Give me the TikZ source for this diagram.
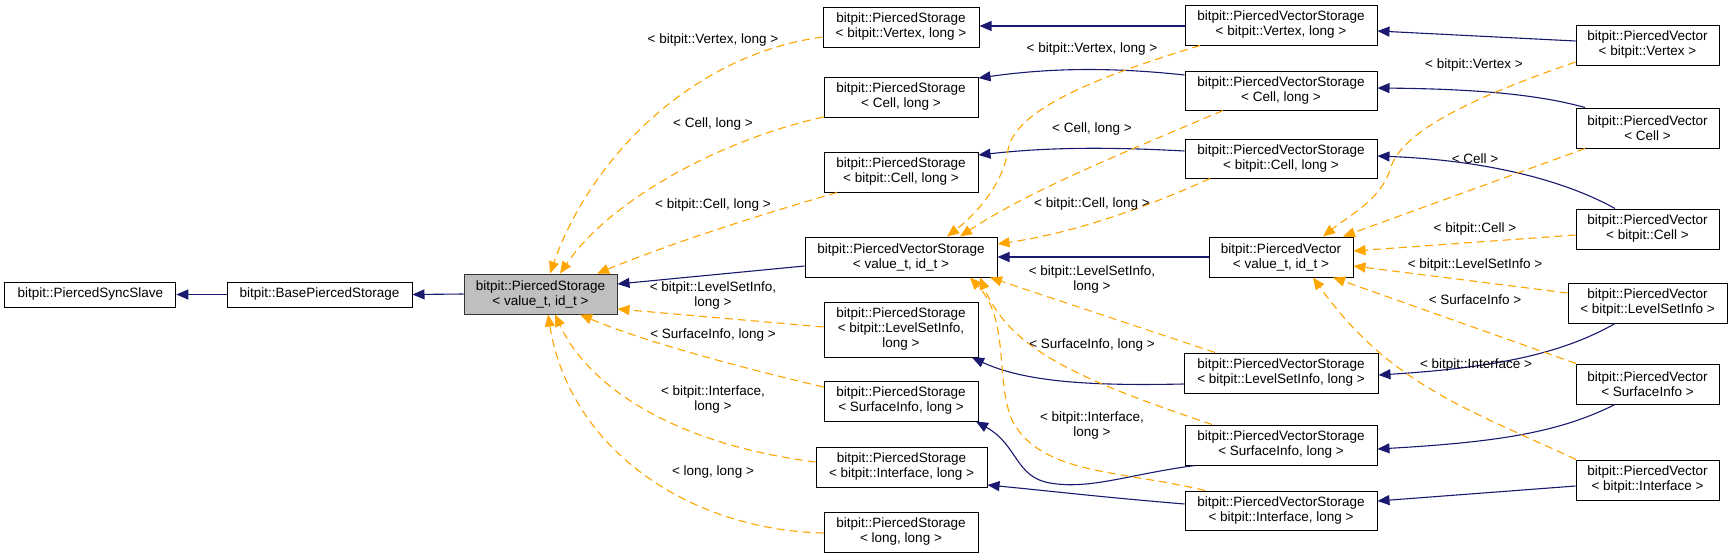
\documentclass[tikz,border=0pt]{standalone}
\usepackage{fontspec}
\setmainfont{Liberation Sans}
\usetikzlibrary{arrows.meta}
\definecolor{navy}{HTML}{191970}
\definecolor{dorange}{HTML}{FFA500}
\definecolor{grayfill}{HTML}{BFBFBF}
\newcommand{\lblfont}{\fontsize{13.5}{15}\selectfont}
\tikzset{
  box/.style={draw=black, line width=1pt, fill=white, inner sep=0pt, align=center, font=\lblfont},
  graybox/.style={box, fill=grayfill, draw=black!80},
  lbl/.style={inner sep=0pt, align=center, font=\lblfont},
  inh/.style={draw=navy, line width=1.1pt, -{Triangle[length=12pt,width=10pt]}},
  tpl/.style={draw=dorange, line width=1.1pt, dash pattern=on 8pt off 5pt, -{Triangle[length=12pt,width=10pt]}}
}
\begin{document}
\begin{tikzpicture}[x=1pt,y=-1pt]
\useasboundingbox (0,0) rectangle (1733,557);
\fill[white] (0,0) rectangle (1733,557);
% nodes
\node[box, minimum width=171pt, minimum height=25pt] (sync) at (90.3,294.5) {bitpit::PiercedSyncSlave};
\node[box, minimum width=185pt, minimum height=25pt] (base) at (319.5,294.5) {bitpit::BasePiercedStorage};
\node[graybox, minimum width=153pt, minimum height=40pt] (ps) at (540.5,294) {bitpit::PiercedStorage\\< value\_t, id\_t >};
\node[box, minimum width=156pt, minimum height=40pt] (psV) at (901,27) {bitpit::PiercedStorage\\< bitpit::Vertex, long >};
\node[box, minimum width=154pt, minimum height=40pt] (psC) at (901,97) {bitpit::PiercedStorage\\< Cell, long >};
\node[box, minimum width=154pt, minimum height=40pt] (psBC) at (901,172) {bitpit::PiercedStorage\\< bitpit::Cell, long >};
\node[box, minimum width=192pt, minimum height=40pt] (pvs) at (901,257) {bitpit::PiercedVectorStorage\\< value\_t, id\_t >};
\node[box, minimum width=154pt, minimum height=55pt] (psL) at (901,329.5) {bitpit::PiercedStorage\\< bitpit::LevelSetInfo,\\long >};
\node[box, minimum width=154pt, minimum height=40pt] (psS) at (901,401) {bitpit::PiercedStorage\\< SurfaceInfo, long >};
\node[box, minimum width=171pt, minimum height=40pt] (psI) at (901.5,467) {bitpit::PiercedStorage\\< bitpit::Interface, long >};
\node[box, minimum width=154pt, minimum height=40pt] (psLL) at (901,532) {bitpit::PiercedStorage\\< long, long >};
\node[box, minimum width=192pt, minimum height=40pt] (pvsV) at (1281,25) {bitpit::PiercedVectorStorage\\< bitpit::Vertex, long >};
\node[box, minimum width=192pt, minimum height=39pt] (pvsC) at (1281,90.5) {bitpit::PiercedVectorStorage\\< Cell, long >};
\node[box, minimum width=192pt, minimum height=39pt] (pvsBC) at (1281,158.5) {bitpit::PiercedVectorStorage\\< bitpit::Cell, long >};
\node[box, minimum width=144pt, minimum height=40pt] (pv) at (1281,257) {bitpit::PiercedVector\\< value\_t, id\_t >};
\node[box, minimum width=194pt, minimum height=40pt] (pvsL) at (1281,373) {bitpit::PiercedVectorStorage\\< bitpit::LevelSetInfo, long >};
\node[box, minimum width=192pt, minimum height=40pt] (pvsS) at (1281,445) {bitpit::PiercedVectorStorage\\< SurfaceInfo, long >};
\node[box, minimum width=192pt, minimum height=39pt] (pvsI) at (1281,510.5) {bitpit::PiercedVectorStorage\\< bitpit::Interface, long >};
\node[box, minimum width=143pt, minimum height=40pt] (pvV) at (1647.5,45) {bitpit::PiercedVector\\< bitpit::Vertex >};
\node[box, minimum width=143pt, minimum height=40pt] (pvC) at (1647.5,128) {bitpit::PiercedVector\\< Cell >};
\node[box, minimum width=143pt, minimum height=40pt] (pvBC) at (1647.5,229) {bitpit::PiercedVector\\< bitpit::Cell >};
\node[box, minimum width=159pt, minimum height=40pt] (pvL) at (1647.5,303) {bitpit::PiercedVector\\< bitpit::LevelSetInfo >};
\node[box, minimum width=143pt, minimum height=40pt] (pvS) at (1647.5,384) {bitpit::PiercedVector\\< SurfaceInfo >};
\node[box, minimum width=143pt, minimum height=40pt] (pvI) at (1647.5,480) {bitpit::PiercedVector\\< bitpit::Interface >};
% solid inheritance edges
\draw[inh] (base.west) -- (sync.east);
\draw[inh] (ps.west) -- (base.east);
\draw[inh] (pvs.west |- 0,266) -- (ps.east |- 0,284);
\draw[inh] (pvsV.west |- 0,26) -- (psV.east |- 0,26);
\draw[inh] (pvsC.west |- 0,75) .. controls (1110,67) and (1050,68) .. (psC.east |- 0,78);
\draw[inh] (pvsBC.west |- 0,151) .. controls (1110,147) and (1050,147) .. (psBC.east |- 0,155);
\draw[inh] (pv.west) -- (pvs.east);
\draw[inh] (pvsL.west |- 0,384) .. controls (1090,386) and (1025,382) .. (psL.south -| 972,0);
\draw[inh] (pvsS.south -| 1195,0) .. controls (1130,474) and (1090,490) .. (1050,483) .. controls (1015,477) and (1018,445) .. (psS.south -| 976,0);
\draw[inh] (pvsI.west |- 0,504) .. controls (1100,497) and (1050,491) .. (psI.east |- 0,485);
\draw[inh] (pvV.west |- 0,41) -- (pvsV.east |- 0,31);
\draw[inh] (pvC.north -| 1585,0) .. controls (1540,95) and (1480,89) .. (pvsC.east |- 0,88);
\draw[inh] (pvBC.north -| 1615,0) .. controls (1560,178) and (1480,160) .. (pvsBC.east |- 0,156);
\draw[inh] (pvL.south -| 1615,0) .. controls (1560,355) and (1490,368) .. (pvsL.east |- 0,375);
\draw[inh] (pvS.south -| 1615,0) .. controls (1560,432) and (1500,442) .. (pvsS.east |- 0,449);
\draw[inh] (pvI.west |- 0,486) -- (pvsI.east |- 0,501);
% template edges to PiercedStorage
\draw[tpl] (psV.west |- 0,37) .. controls (690,55) and (590,160) .. (ps.north -| 550,0);
\draw[tpl] (psC.west |- 0,117) .. controls (720,140) and (610,200) .. (ps.north -| 560,0);
\draw[tpl] (psBC.south -| 837,0) .. controls (760,215) and (680,240) .. (ps.north -| 597,0);
\draw[tpl] (psL.west |- 0,327) -- (ps.east |- 0,309);
\draw[tpl] (psS.west |- 0,387) .. controls (730,365) and (640,340) .. (ps.south -| 580,0);
\draw[tpl] (psI.west |- 0,462) .. controls (680,445) and (590,390) .. (ps.south -| 555,0);
\draw[tpl] (psLL.west |- 0,533) .. controls (690,530) and (570,450) .. (ps.south -| 548,0);
% template edges to PiercedVectorStorage
\draw[tpl] (pvsV.south -| 1200,0) .. controls (1120,70) and (1015,105) .. (1008,150) .. controls (1003,185) and (975,215) .. (pvs.north -| 947,0);
\draw[tpl] (pvsC.south -| 1223,0) .. controls (1130,150) and (1030,190) .. (pvs.north -| 960,0);
\draw[tpl] (pvsBC.south -| 1210,0) .. controls (1130,215) and (1060,235) .. (pvs.east |- 0,244);
\draw[tpl] (pvsL.north -| 1215,0) -- (pvs.south -| 990,0);
\draw[tpl] (pvsS.north -| 1212,0) .. controls (1080,380) and (1010,350) .. (pvs.south -| 980,0);
\draw[tpl] (pvsI.north -| 1205,0) .. controls (1120,470) and (1040,475) .. (1012,420) .. controls (995,380) and (1010,320) .. (pvs.south -| 970,0);
% template edges to PiercedVector
\draw[tpl] (pvV.west |- 0,62) .. controls (1480,95) and (1400,130) .. (1390,170) .. controls (1380,200) and (1350,215) .. (pv.north -| 1323,0);
\draw[tpl] (pvC.south -| 1585,0) -- (pv.north -| 1343,0);
\draw[tpl] (pvBC.west |- 0,235) -- (pv.east |- 0,251);
\draw[tpl] (pvL.west |- 0,293) -- (pv.east |- 0,266);
\draw[tpl] (pvS.north -| 1576,0) -- (pv.south -| 1333,0);
\draw[tpl] (pvI.north -| 1576,0) .. controls (1470,410) and (1390,385) .. (pv.south -| 1313,0);
% labels
\node[lbl] (l1) at (713,40) {< bitpit::Vertex, long >};
\node[lbl] (l2) at (713,124) {< Cell, long >};
\node[lbl] (l3) at (713,205) {< bitpit::Cell, long >};
\node[lbl] (l4) at (713,296) {< bitpit::LevelSetInfo,\\long >};
\node[lbl] (l5) at (713,335) {< SurfaceInfo, long >};
\node[lbl] (l6) at (713,400) {< bitpit::Interface,\\long >};
\node[lbl] (l7) at (713,472) {< long, long >};
\node[lbl] (m1) at (1092,49) {< bitpit::Vertex, long >};
\node[lbl] (m2) at (1092,129) {< Cell, long >};
\node[lbl] (m3) at (1092,204) {< bitpit::Cell, long >};
\node[lbl] (m4) at (1092,280) {< bitpit::LevelSetInfo,\\long >};
\node[lbl] (m5) at (1092,345) {< SurfaceInfo, long >};
\node[lbl] (m6) at (1092,426) {< bitpit::Interface,\\long >};
\node[lbl] (n1) at (1474,65) {< bitpit::Vertex >};
\node[lbl] (n2) at (1475,159) {< Cell >};
\node[lbl] (n3) at (1475,229) {< bitpit::Cell >};
\node[lbl] (n4) at (1475,265) {< bitpit::LevelSetInfo >};
\node[lbl] (n5) at (1475,300) {< SurfaceInfo >};
\node[lbl] (n6) at (1476,365) {< bitpit::Interface >};
\end{tikzpicture}
\end{document}
